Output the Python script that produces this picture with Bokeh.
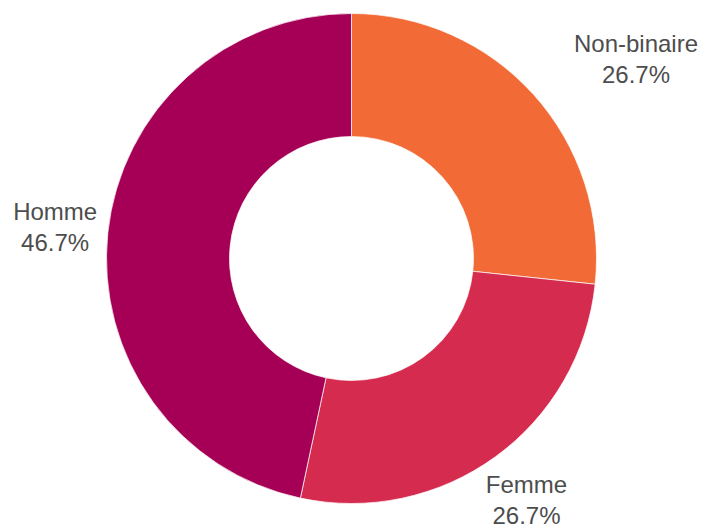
import math
from bokeh.plotting import figure
from bokeh.models import ColumnDataSource
from bokeh.core.properties import value
from bokeh.embed import file_html
from bokeh.resources import INLINE

categories = ["Non-binaire", "Femme", "Homme"]
values = [26.7, 26.7, 46.7]
colors = ["#F26A36", "#D42B4E", "#A50055"]
label_shift = [63, 0, 0]

W, H = 704, 525
cx, cy = 351, 267
R_out, R_in, R_lab = 245, 122, 298

total = sum(values)
starts, ends, lx, ly, texts = [], [], [], [], []
acc = 0.0
for c, v in zip(categories, values):
    a0 = math.pi / 2 - 2 * math.pi * acc / total
    a1 = math.pi / 2 - 2 * math.pi * (acc + v) / total
    starts.append(a0)
    ends.append(a1)
    mid = (a0 + a1) / 2
    lx.append(cx + R_lab * math.cos(mid))
    ly.append(cy + R_lab * math.sin(mid))
    texts.append(f"{c}\n{v:.1f}%")
    acc += v

src = ColumnDataSource(dict(start=starts, end=ends, color=colors))
lab = ColumnDataSource(dict(x=lx, y=ly, text=texts, dx=label_shift))

p = figure(width=W, height=H, x_range=(0, W), y_range=(0, H),
           output_backend="svg", toolbar_location=None, min_border=0)
p.axis.visible = False
p.grid.visible = False
p.outline_line_color = None
p.background_fill_color = "white"

p.annular_wedge(x=cx, y=cy, inner_radius=R_in, outer_radius=R_out,
                start_angle="start", end_angle="end", direction="clock",
                color="color", line_color="white", line_width=0.7, source=src)

p.text(x="x", y="y", text="text", source=lab, x_offset="dx", text_align="center",
       text_baseline="middle", text_font=value("Liberation Sans"),
       text_font_size="24px", text_color="#4d4d4d", text_line_height=1.15)

open("out.html", "w").write(file_html(p, INLINE))
